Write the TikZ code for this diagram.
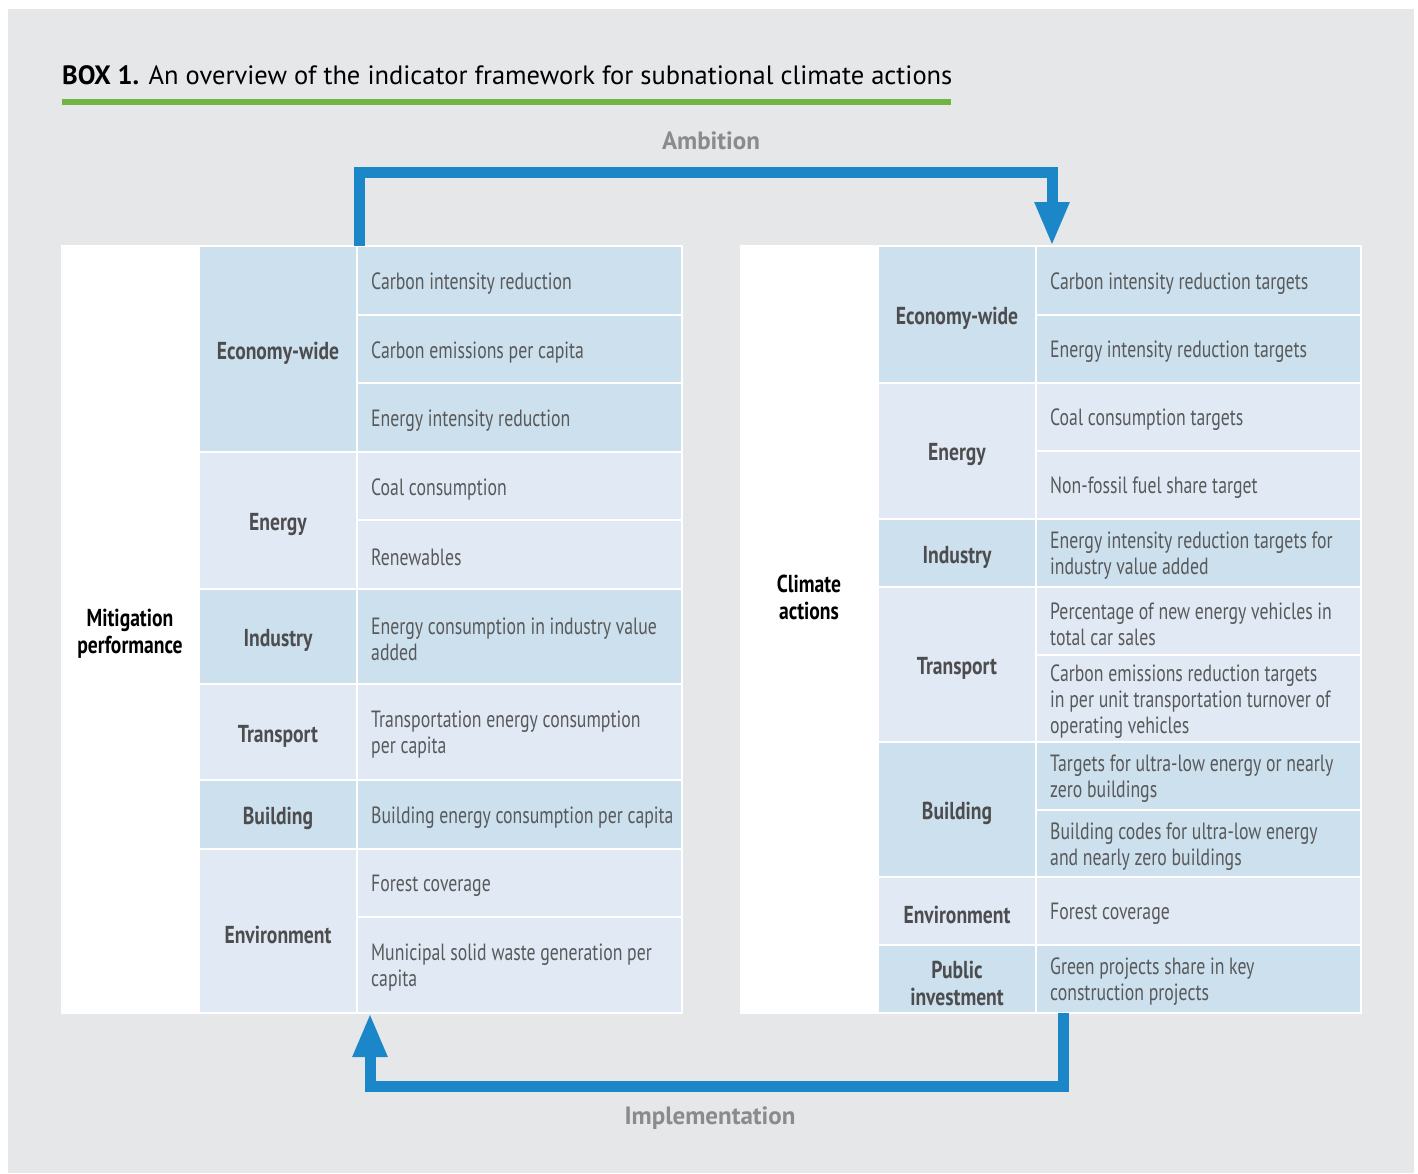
\documentclass[tikz,border=0pt]{standalone}
\usepackage{fontspec}
\setmainfont{PT Sans}
\newfontfamily\cnd[FakeStretch=0.755]{PT Sans}
\newfontfamily\cndb[FakeStretch=0.8]{PT Sans Bold}
\newcommand\indfont{\cnd\fontsize{23.5}{26}\selectfont}
\newcommand\catfont{\cndb\fontsize{24.5}{27}\selectfont}
\usetikzlibrary{arrows.meta}
\definecolor{bg}{HTML}{E6E7E9}
\definecolor{dk}{HTML}{CCE0ED}
\definecolor{lt}{HTML}{E1EAF4}
\definecolor{arr}{HTML}{1B87C9}
\definecolor{grn}{HTML}{72B443}
\definecolor{txt}{HTML}{58595B}
\definecolor{cattxt}{HTML}{4D4D4F}
\definecolor{lbl}{HTML}{8A8B8D}
% indicator cell: name, x, y, height, fill, text
\newcommand\icell[6]{%
  \node[cellbox, fill=#5, minimum width=325pt, minimum height=#4pt] (#1) at (#2,#3) {};
  \node[indtxt] (#1t) at ([xshift=14pt,yshift=-3pt]#1.west) {#6};}
% category cell: name, x, y, height, fill, text
\newcommand\ccell[6]{%
  \node[cellbox, fill=#5, minimum width=158pt, minimum height=#4pt] (#1) at (#2,#3) {};
  \node[cattxt] (#1t) at ([yshift=-4pt]#1.center) {#6};}
\begin{document}
\begin{tikzpicture}[x=1pt,y=-1pt,
  cellbox/.style={draw=white, line width=1.5pt, anchor=north west, inner sep=0pt, outer sep=0pt},
  indtxt/.style={anchor=west, inner sep=0pt, align=left, font=\indfont, text=txt},
  cattxt/.style={inner sep=0pt, align=center, font=\catfont, text=cattxt},
  side/.style={cellbox, minimum width=137pt, minimum height=767pt},
  sidetxt/.style={align=center, font=\catfont, text=black},
  flow/.style={draw=arr, line width=11pt, line join=miter, -{Triangle[width=32pt,length=44pt]}},
  lab/.style={font=\bfseries\fontsize{25}{28}\selectfont, text=lbl}]
\useasboundingbox (0,0) rectangle (1418,1173);
\fill[white] (0,0) rectangle (1418,1173);
\fill[bg] (8,9) rectangle (1414,1173);

\node[anchor=base west, inner sep=0pt] (title) at (62,84) {\fontsize{26.5}{30}\selectfont\textbf{BOX 1.} An overview of the indicator framework for subnational climate actions};
\draw[grn, line width=6pt] (62,102) -- (951,102);

% ---------- left table ----------
\node[side, fill=white] (lside) at (62,246) {};
\node[sidetxt] (ltxt) at (130,634) {Mitigation\\performance};

\ccell{lc1}{199}{246}{206}{dk}{Economy-wide}
\ccell{lc2}{199}{452}{137}{lt}{Energy}
\ccell{lc3}{199}{589}{95}{dk}{Industry}
\ccell{lc4}{199}{684}{96}{lt}{Transport}
\ccell{lc5}{199}{780}{69}{dk}{Building}
\ccell{lc6}{199}{849}{164}{lt}{Environment}

\icell{li1}{357}{246}{69}{dk}{Carbon intensity reduction}
\icell{li2}{357}{315}{68}{dk}{Carbon emissions per capita}
\icell{li3}{357}{383}{69}{dk}{Energy intensity reduction}
\icell{li4}{357}{452}{68}{lt}{Coal consumption}
\icell{li5}{357}{520}{69}{lt}{Renewables}
\icell{li6}{357}{589}{95}{dk}{Energy consumption in industry value\\added}
\icell{li7}{357}{684}{96}{lt}{Transportation energy consumption\\per capita}
\icell{li8}{357}{780}{69}{dk}{Building energy consumption per capita}
\icell{li9}{357}{849}{68}{lt}{Forest coverage}
\icell{li10}{357}{917}{96}{lt}{Municipal solid waste generation per\\capita}

% ---------- right table ----------
\node[side, fill=white] (rside) at (741,246) {};
\node[sidetxt] (rtxt) at (809,597) {Climate\\actions};

\ccell{rc1}{878}{246}{137}{dk}{Economy-wide}
\ccell{rc2}{878}{383}{136}{lt}{Energy}
\ccell{rc3}{878}{519}{68}{dk}{Industry}
\ccell{rc4}{878}{587}{155}{lt}{Transport}
\ccell{rc5}{878}{742}{135}{dk}{Building}
\ccell{rc6}{878}{877}{68}{lt}{Environment}
\ccell{rc7}{878}{945}{68}{dk}{Public\\investment}

\icell{ri1}{1036}{246}{69}{dk}{Carbon intensity reduction targets}
\icell{ri2}{1036}{315}{68}{dk}{Energy intensity reduction targets}
\icell{ri3}{1036}{383}{68}{lt}{Coal consumption targets}
\icell{ri4}{1036}{451}{68}{lt}{Non-fossil fuel share target}
\icell{ri5}{1036}{519}{68}{dk}{Energy intensity reduction targets for\\industry value added}
\icell{ri6}{1036}{587}{68}{lt}{Percentage of new energy vehicles in\\total car sales}
\icell{ri7}{1036}{655}{87}{lt}{Carbon emissions reduction targets\\in per unit transportation turnover of\\operating vehicles}
\icell{ri8}{1036}{742}{68}{dk}{Targets for ultra-low energy or nearly\\zero buildings}
\icell{ri9}{1036}{810}{67}{dk}{Building codes for ultra-low energy\\and nearly zero buildings}
\icell{ri10}{1036}{877}{68}{lt}{Forest coverage}
\icell{ri11}{1036}{945}{68}{dk}{Green projects share in key\\construction projects}

% ---------- arrows ----------
\coordinate (ambY) at (0,172);
\coordinate (impY) at (0,1086);
\coordinate (aS) at ([xshift=2pt]li1.north west);
\coordinate (aE) at ([xshift=16pt]ri1.north west);
\coordinate (iS) at ([xshift=27pt]ri11.south west);
\coordinate (iE) at ([xshift=13pt]li10.south west);
\draw[flow] (aS) -- (aS |- ambY) -| (aE);
\draw[flow] (iS) -- (iS |- impY) -| (iE);

\node[lab] (amb) at (711,141) {Ambition};
\node[lab] (imp) at (710,1118) {Implementation};
\end{tikzpicture}
\end{document}
